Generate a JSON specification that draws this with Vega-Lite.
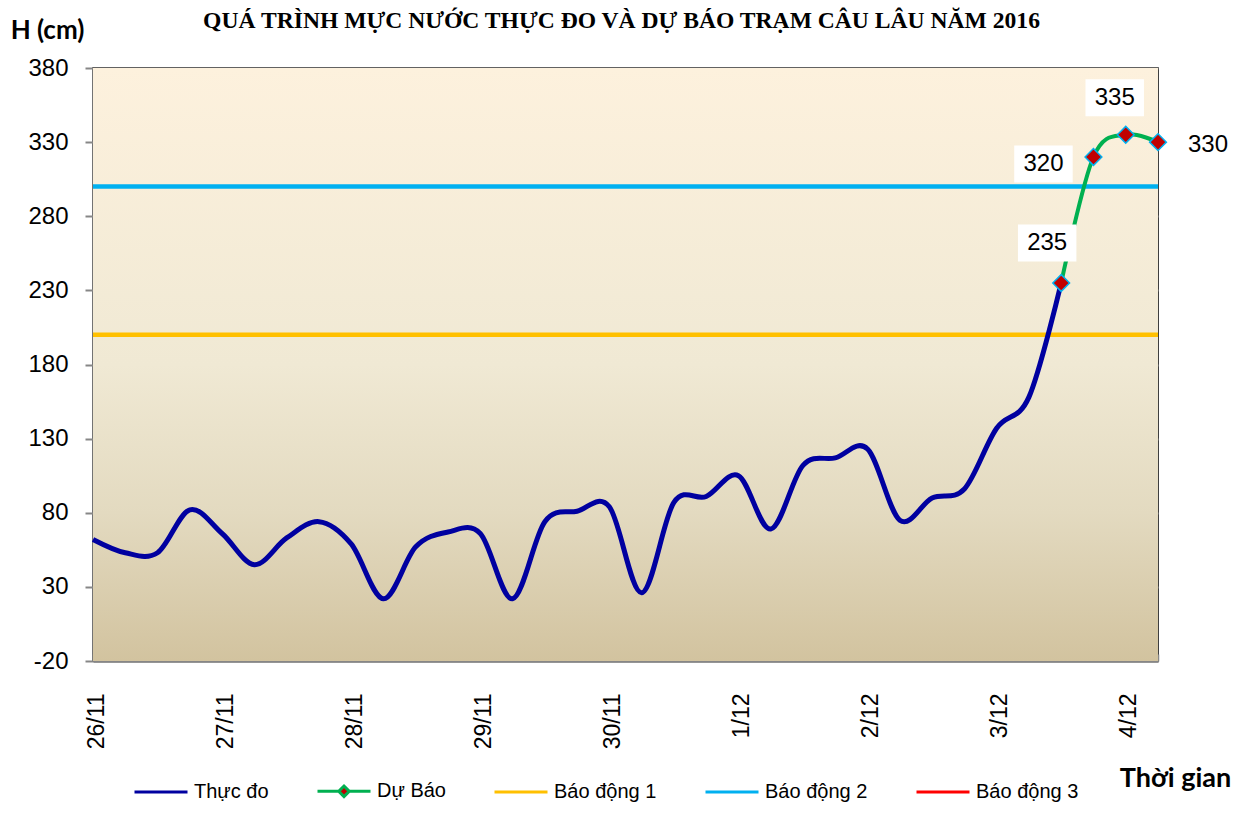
{
  "$schema": "https://vega.github.io/schema/vega-lite/v6.json",
  "width": 1065,
  "height": 593,
  "autosize": {"type": "none"},
  "padding": {"left": 93, "top": 68, "right": 82, "bottom": 170},
  "background": "white",
  "title": {
    "text": "QUÁ TRÌNH MỰC NƯỚC THỰC ĐO VÀ DỰ BÁO TRẠM CÂU LÂU NĂM 2016",
    "font": "Liberation Serif",
    "fontSize": 23.6,
    "fontWeight": "bold",
    "color": "black",
    "anchor": "middle",
    "offset": -16,
    "dx": -4
  },
  "data": {
    "values": [
      {"t": "2016-11-26T00:00:00", "h": 62, "s": "Thực đo"},
      {"t": "2016-11-26T06:00:00", "h": 53, "s": "Thực đo"},
      {"t": "2016-11-26T12:00:00", "h": 53, "s": "Thực đo"},
      {"t": "2016-11-26T18:00:00", "h": 82, "s": "Thực đo"},
      {"t": "2016-11-27T00:00:00", "h": 66, "s": "Thực đo"},
      {"t": "2016-11-27T06:00:00", "h": 45, "s": "Thực đo"},
      {"t": "2016-11-27T12:00:00", "h": 63, "s": "Thực đo"},
      {"t": "2016-11-27T18:00:00", "h": 74, "s": "Thực đo"},
      {"t": "2016-11-28T00:00:00", "h": 59, "s": "Thực đo"},
      {"t": "2016-11-28T06:00:00", "h": 22, "s": "Thực đo"},
      {"t": "2016-11-28T12:00:00", "h": 57, "s": "Thực đo"},
      {"t": "2016-11-28T18:00:00", "h": 67, "s": "Thực đo"},
      {"t": "2016-11-29T00:00:00", "h": 66, "s": "Thực đo"},
      {"t": "2016-11-29T06:00:00", "h": 22, "s": "Thực đo"},
      {"t": "2016-11-29T12:00:00", "h": 74, "s": "Thực đo"},
      {"t": "2016-11-29T18:00:00", "h": 81, "s": "Thực đo"},
      {"t": "2016-11-30T00:00:00", "h": 84, "s": "Thực đo"},
      {"t": "2016-11-30T06:00:00", "h": 26, "s": "Thực đo"},
      {"t": "2016-11-30T12:00:00", "h": 87, "s": "Thực đo"},
      {"t": "2016-11-30T18:00:00", "h": 91, "s": "Thực đo"},
      {"t": "2016-12-01T00:00:00", "h": 105, "s": "Thực đo"},
      {"t": "2016-12-01T06:00:00", "h": 69, "s": "Thực đo"},
      {"t": "2016-12-01T12:00:00", "h": 112, "s": "Thực đo"},
      {"t": "2016-12-01T18:00:00", "h": 117, "s": "Thực đo"},
      {"t": "2016-12-02T00:00:00", "h": 123, "s": "Thực đo"},
      {"t": "2016-12-02T06:00:00", "h": 75, "s": "Thực đo"},
      {"t": "2016-12-02T12:00:00", "h": 90, "s": "Thực đo"},
      {"t": "2016-12-02T18:00:00", "h": 96, "s": "Thực đo"},
      {"t": "2016-12-03T00:00:00", "h": 137, "s": "Thực đo"},
      {"t": "2016-12-03T06:00:00", "h": 158, "s": "Thực đo"},
      {"t": "2016-12-03T12:00:00", "h": 235, "s": "Thực đo"},
      {"t": "2016-12-03T12:00:00", "h": 235, "s": "Dự Báo"},
      {"t": "2016-12-03T18:00:00", "h": 320, "s": "Dự Báo"},
      {"t": "2016-12-04T00:00:00", "h": 335, "s": "Dự Báo"},
      {"t": "2016-12-04T06:00:00", "h": 330, "s": "Dự Báo"}
    ]
  },
  "layer": [
    {
      "data": {"values": [{"bg": 1}]},
      "mark": {
        "type": "rect",
        "color": {
          "gradient": "linear",
          "x1": 0, "y1": 0, "x2": 0, "y2": 1,
          "stops": [
            {"offset": 0, "color": "#FDF1DD"},
            {"offset": 0.5, "color": "#F0E9D4"},
            {"offset": 0.75, "color": "#E3DAC0"},
            {"offset": 1, "color": "#D2C39F"}
          ]
        }
      },
      "encoding": {}
    },
    {
      "data": {"values": [{"s": "Báo động 1", "h": 200}, {"s": "Báo động 2", "h": 300}]},
      "mark": {"type": "rule", "strokeWidth": 4.5},
      "encoding": {
        "y": {
          "field": "h",
          "type": "quantitative",
          "scale": {"domain": [-20, 380], "nice": false, "zero": false},
          "axis": {
            "values": [-20, 30, 80, 130, 180, 230, 280, 330, 380],
            "labelExpr": "datum.value < 0 ? '-' + abs(datum.value) : '' + datum.value",
            "title": "H (cm)",
            "titleAngle": 0,
            "titleX": -46,
            "titleY": -38,
            "titleAlign": "center",
            "titleBaseline": "middle",
            "titleFont": "Lato",
            "titleFontSize": 26,
            "titleFontWeight": "bold",
            "titleColor": "black",
            "labelFont": "Liberation Sans",
            "labelFontSize": 24,
            "labelColor": "black",
            "labelPadding": 17,
            "tickSize": 8,
            "tickColor": "#868686",
            "tickWidth": 2,
            "domainColor": "#868686",
            "domainWidth": 2.5,
            "grid": true,
            "gridColor": "#868686",
            "gridWidth": 2
          }
        },
        "color": {
          "field": "s",
          "type": "nominal",
          "scale": {
            "domain": ["Thực đo", "Dự Báo", "Báo động 1", "Báo động 2", "Báo động 3"],
            "range": ["#0000A0", "#00B050", "#FFC000", "#00B0F0", "#FF0000"]
          },
          "legend": {
            "orient": "none",
            "legendX": 40,
            "legendY": 695,
            "direction": "horizontal",
            "title": null,
            "symbolType": "stroke",
            "symbolSize": 2809,
            "symbolStrokeWidth": 3,
            "labelFont": "Liberation Sans",
            "labelFontSize": 20,
            "labelColor": "black",
            "labelOffset": 5,
            "columnPadding": 42,
            "encode": {
              "symbols": {
                "update": {
                  "shape": {"signal": "datum.value === 'Dự Báo' ? 'M-1,0H-0.2M0.2,0H1M0,-0.2L0.2,0L0,0.2L-0.2,0Z' : 'stroke'"},
                  "fill": {"signal": "datum.value === 'Dự Báo' ? '#C00000' : 'transparent'"}
                }
              }
            }
          }
        }
      }
    },
    {
      "transform": [{"filter": "datum.s == 'Thực đo'"}],
      "mark": {"type": "line", "interpolate": "cardinal", "strokeWidth": 5},
      "encoding": {
        "x": {
          "field": "t",
          "type": "temporal",
          "axis": {
            "tickCount": 34,
            "labelExpr": "hours(datum.value) == 0 ? timeFormat(datum.value, '%-d/%-m') : ''",
            "labelAngle": 270,
            "labelOverlap": false,
            "labelFlush": false,
            "labelOffset": 3,
            "labelFont": "Liberation Sans",
            "labelFontSize": 23,
            "labelColor": "black",
            "labelPadding": 39,
            "tickSize": -7,
            "tickColor": "#868686",
            "tickWidth": 1.5,
            "domainColor": "#868686",
            "domainWidth": 2.5,
            "grid": false,
            "title": "Thời gian",
            "titleAngle": 0,
            "titleX": 1082,
            "titleY": 117,
            "titleAlign": "center",
            "titleBaseline": "middle",
            "titleFont": "Lato",
            "titleFontSize": 27,
            "titleFontWeight": "bold",
            "titleColor": "black"
          }
        },
        "y": {"field": "h", "type": "quantitative"},
        "color": {"field": "s", "type": "nominal"}
      }
    },
    {
      "transform": [{"filter": "datum.s == 'Dự Báo'"}],
      "mark": {"type": "line", "interpolate": "cardinal", "strokeWidth": 4},
      "encoding": {
        "x": {"field": "t", "type": "temporal"},
        "y": {"field": "h", "type": "quantitative"},
        "color": {"field": "s", "type": "nominal"}
      }
    },
    {
      "transform": [{"filter": "datum.s == 'Dự Báo'"}],
      "mark": {"type": "point", "shape": "diamond", "filled": true, "fill": "#C00000", "stroke": "#00B0F0", "strokeWidth": 1.5, "size": 280, "opacity": 1},
      "encoding": {
        "x": {"field": "t", "type": "temporal"},
        "y": {"field": "h", "type": "quantitative"}
      }
    },
    {
      "transform": [{"filter": "datum.s == 'Dự Báo' && datum.h == 235"}],
      "mark": {"type": "point", "shape": "M-1.58,-1H1.58V1H-1.58Z", "filled": true, "fill": "white", "strokeWidth": 0, "size": 1369, "opacity": 1, "xOffset": -14, "yOffset": -40},
      "encoding": {"x": {"field": "t", "type": "temporal"}, "y": {"field": "h", "type": "quantitative"}}
    },
    {
      "transform": [{"filter": "datum.s == 'Dự Báo' && datum.h == 320"}],
      "mark": {"type": "point", "shape": "M-1.58,-1H1.58V1H-1.58Z", "filled": true, "fill": "white", "strokeWidth": 0, "size": 1369, "opacity": 1, "xOffset": -50, "yOffset": 7},
      "encoding": {"x": {"field": "t", "type": "temporal"}, "y": {"field": "h", "type": "quantitative"}}
    },
    {
      "transform": [{"filter": "datum.s == 'Dự Báo' && datum.h == 335"}],
      "mark": {"type": "point", "shape": "M-1.58,-1H1.58V1H-1.58Z", "filled": true, "fill": "white", "strokeWidth": 0, "size": 1369, "opacity": 1, "xOffset": -11, "yOffset": -37},
      "encoding": {"x": {"field": "t", "type": "temporal"}, "y": {"field": "h", "type": "quantitative"}}
    },
    {
      "transform": [{"filter": "datum.s == 'Dự Báo' && datum.h == 235"}],
      "mark": {"type": "text", "font": "Liberation Sans", "fontSize": 24, "color": "black", "baseline": "middle", "align": "center", "dx": -14, "dy": -40},
      "encoding": {"x": {"field": "t", "type": "temporal"}, "y": {"field": "h", "type": "quantitative"}, "text": {"field": "h", "type": "quantitative"}}
    },
    {
      "transform": [{"filter": "datum.s == 'Dự Báo' && datum.h == 320"}],
      "mark": {"type": "text", "font": "Liberation Sans", "fontSize": 24, "color": "black", "baseline": "middle", "align": "center", "dx": -50, "dy": 7},
      "encoding": {"x": {"field": "t", "type": "temporal"}, "y": {"field": "h", "type": "quantitative"}, "text": {"field": "h", "type": "quantitative"}}
    },
    {
      "transform": [{"filter": "datum.s == 'Dự Báo' && datum.h == 335"}],
      "mark": {"type": "text", "font": "Liberation Sans", "fontSize": 24, "color": "black", "baseline": "middle", "align": "center", "dx": -11, "dy": -37},
      "encoding": {"x": {"field": "t", "type": "temporal"}, "y": {"field": "h", "type": "quantitative"}, "text": {"field": "h", "type": "quantitative"}}
    },
    {
      "transform": [{"filter": "datum.s == 'Dự Báo' && datum.h == 330"}],
      "mark": {"type": "text", "font": "Liberation Sans", "fontSize": 24, "color": "black", "baseline": "middle", "align": "center", "dx": 50, "dy": 3},
      "encoding": {"x": {"field": "t", "type": "temporal"}, "y": {"field": "h", "type": "quantitative"}, "text": {"field": "h", "type": "quantitative"}}
    }
  ],
  "config": {
    "view": {"stroke": "black", "strokeWidth": 1.5}
  }
}
